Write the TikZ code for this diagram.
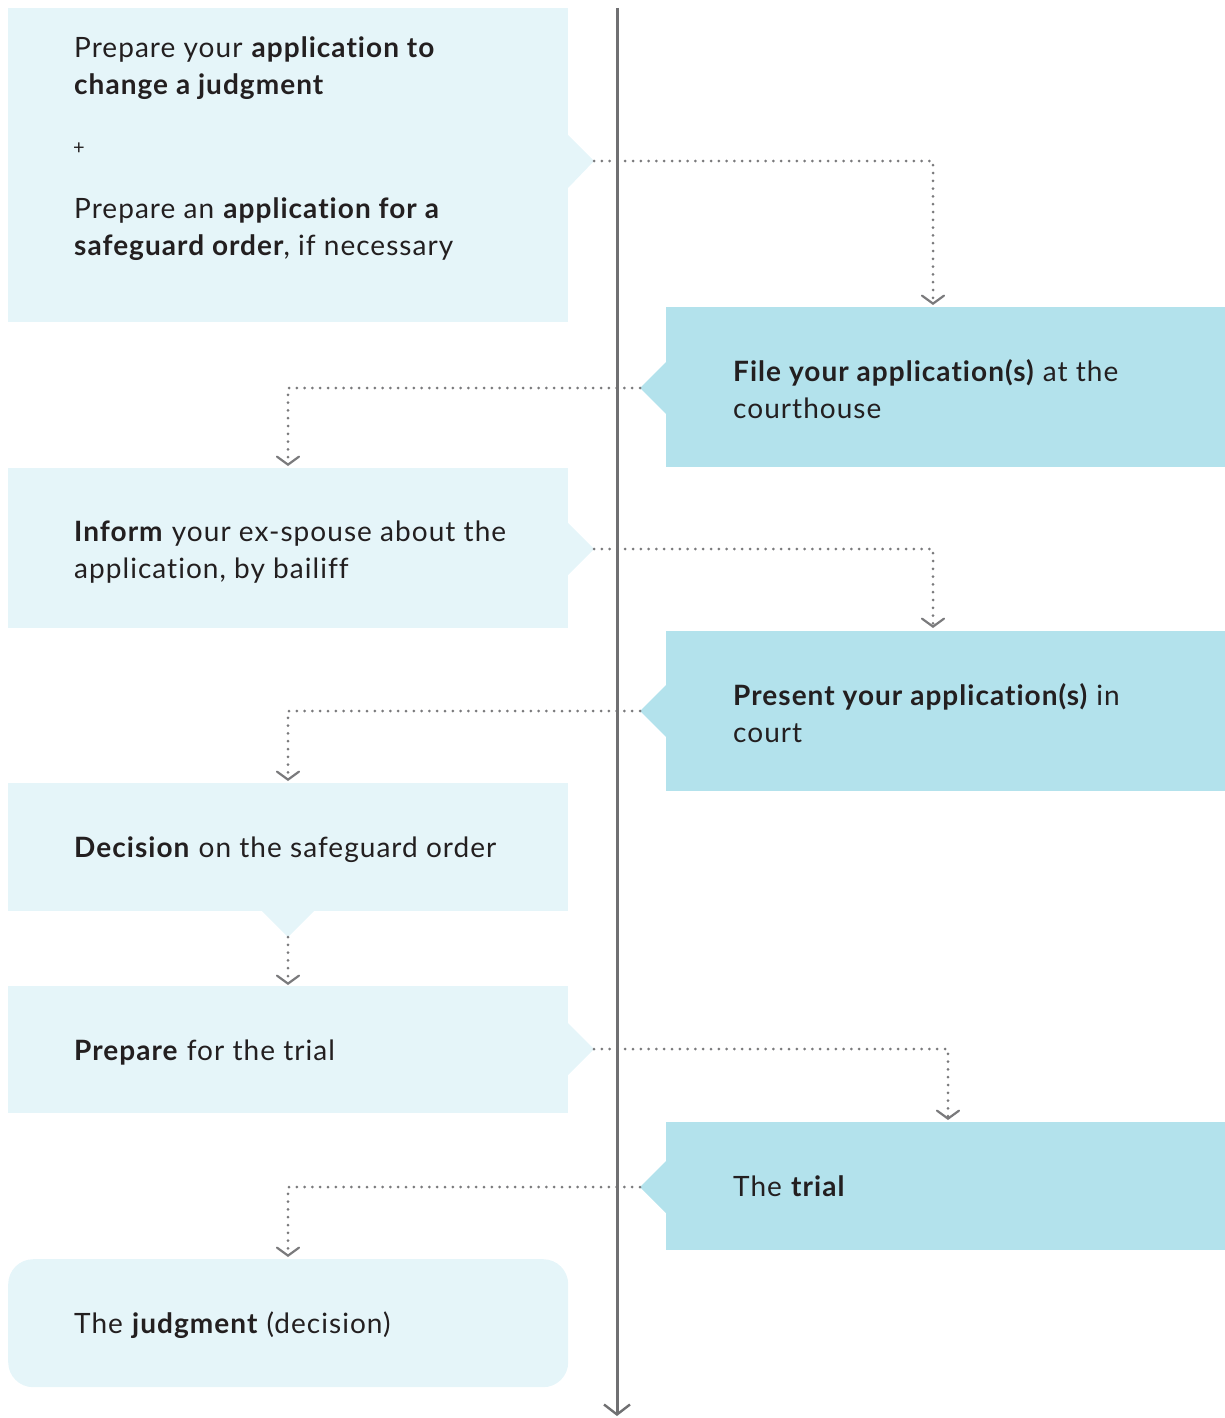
\documentclass[tikz,border=0pt]{standalone}
\usepackage{fontspec}
\setmainfont{Lato}[LetterSpace=3.7, Ligatures={NoCommon}]
\usetikzlibrary{arrows.meta}
\definecolor{lightbox}{HTML}{E5F5F9}
\definecolor{darkbox}{HTML}{B3E2EC}
\definecolor{linegray}{HTML}{707072}
\definecolor{dotgray}{HTML}{7A7A7C}
\definecolor{txt}{HTML}{231F20}
\tikzset{
  lbox/.style={fill=lightbox, draw=none, anchor=north west, minimum width=560pt, inner sep=0pt},
  rbox/.style={fill=darkbox, draw=none, anchor=north west, minimum width=559pt, inner sep=0pt},
  lbl/.style={anchor=base west, inner sep=0pt, text=txt, font=\fontsize{28}{37}\selectfont, align=left},
  dotline/.style={draw=dotgray, line width=3pt, line cap=round, dash pattern=on 0pt off 7.8pt,
    -{Straight Barb[length=8pt, width=22pt, line width=2.2pt, line cap=round]}},
}
\begin{document}
\begin{tikzpicture}[x=1pt, y=-1pt]
\useasboundingbox (0,0) rectangle (1225,1418);
% left boxes
\node[lbox, minimum height=314pt] (b1) at (8,8) {};
\fill[lightbox] (568,135) -- (594,161) -- (568,188) -- cycle;
\node[lbox, minimum height=160pt] (b2) at (8,468) {};
\fill[lightbox] (568,523) -- (594,549) -- (568,575) -- cycle;
\node[lbox, minimum height=128pt] (b3) at (8,783) {};
\fill[lightbox] (262,911) -- (288,937) -- (314,911) -- cycle;
\node[lbox, minimum height=127pt] (b4) at (8,986) {};
\fill[lightbox] (568,1023) -- (594,1049) -- (568,1075) -- cycle;
\node[lbox, minimum height=128pt, rounded corners=25pt] (b5) at (8,1259) {};
% right boxes
\node[rbox, minimum height=160pt] (r1) at (666,307) {};
\fill[darkbox] (666,362) -- (640,388) -- (666,414) -- cycle;
\node[rbox, minimum height=160pt] (r2) at (666,631) {};
\fill[darkbox] (666,685) -- (640,711) -- (666,737) -- cycle;
\node[rbox, minimum height=128pt] (r3) at (666,1122) {};
\fill[darkbox] (666,1161) -- (640,1187) -- (666,1213) -- cycle;
% tips
\coordinate (t1) at (594,161);
\coordinate (t2) at (640,388);
\coordinate (t3) at (594,549);
\coordinate (t4) at (640,711);
\coordinate (t5) at (288,937);
\coordinate (t6) at (594,1049);
\coordinate (t7) at (640,1187);
\coordinate (e1) at (933,305);
\coordinate (e2) at (288,466);
\coordinate (e3) at (933,628);
\coordinate (e4) at (288,781);
\coordinate (e5) at (288,985);
\coordinate (e6) at (948,1120);
\coordinate (e7) at (288,1257);
% dotted connectors
\draw[dotline] (t1) -| (e1);
\draw[dotline] (t2) -| (e2);
\draw[dotline] (t3) -| (e3);
\draw[dotline] (t4) -| (e4);
\draw[dotline] (t5) -- (e5);
\draw[dotline] (t6) -| (e6);
\draw[dotline] (t7) -| (e7);
% timeline
\coordinate (vtop) at (617,8);
\coordinate (vbot) at (617,1416);
\draw[linegray, line width=3pt, -{Straight Barb[length=10pt, width=26pt, line width=2.4pt]}] (vtop) -- (vbot);
% texts
\node[lbl] (x1) at (74,95) {Prepare your \textbf{application to}\\\textbf{change a judgment}};
\node[lbl, font=\fontsize{20}{24}\selectfont] (x1p) at (73,154) {+};
\node[lbl] (x1b) at (74,255) {Prepare an \textbf{application for a}\\\textbf{safeguard order}, if necessary};
\node[lbl] (x2) at (733,418) {\textbf{File your application(s)} at the\\courthouse};
\node[lbl] (x3) at (74,578) {\textbf{Inform} your ex-spouse about the\\application, by bailiff};
\node[lbl] (x4) at (733,742) {\textbf{Present your application(s)} in\\court};
\node[lbl] (x5) at (74,857) {\textbf{Decision} on the safeguard order};
\node[lbl] (x6) at (74,1060) {\textbf{Prepare} for the trial};
\node[lbl] (x7) at (733,1196) {The \textbf{trial}};
\node[lbl] (x8) at (74,1333) {The \textbf{judgment} (decision)};
\end{tikzpicture}
\end{document}
